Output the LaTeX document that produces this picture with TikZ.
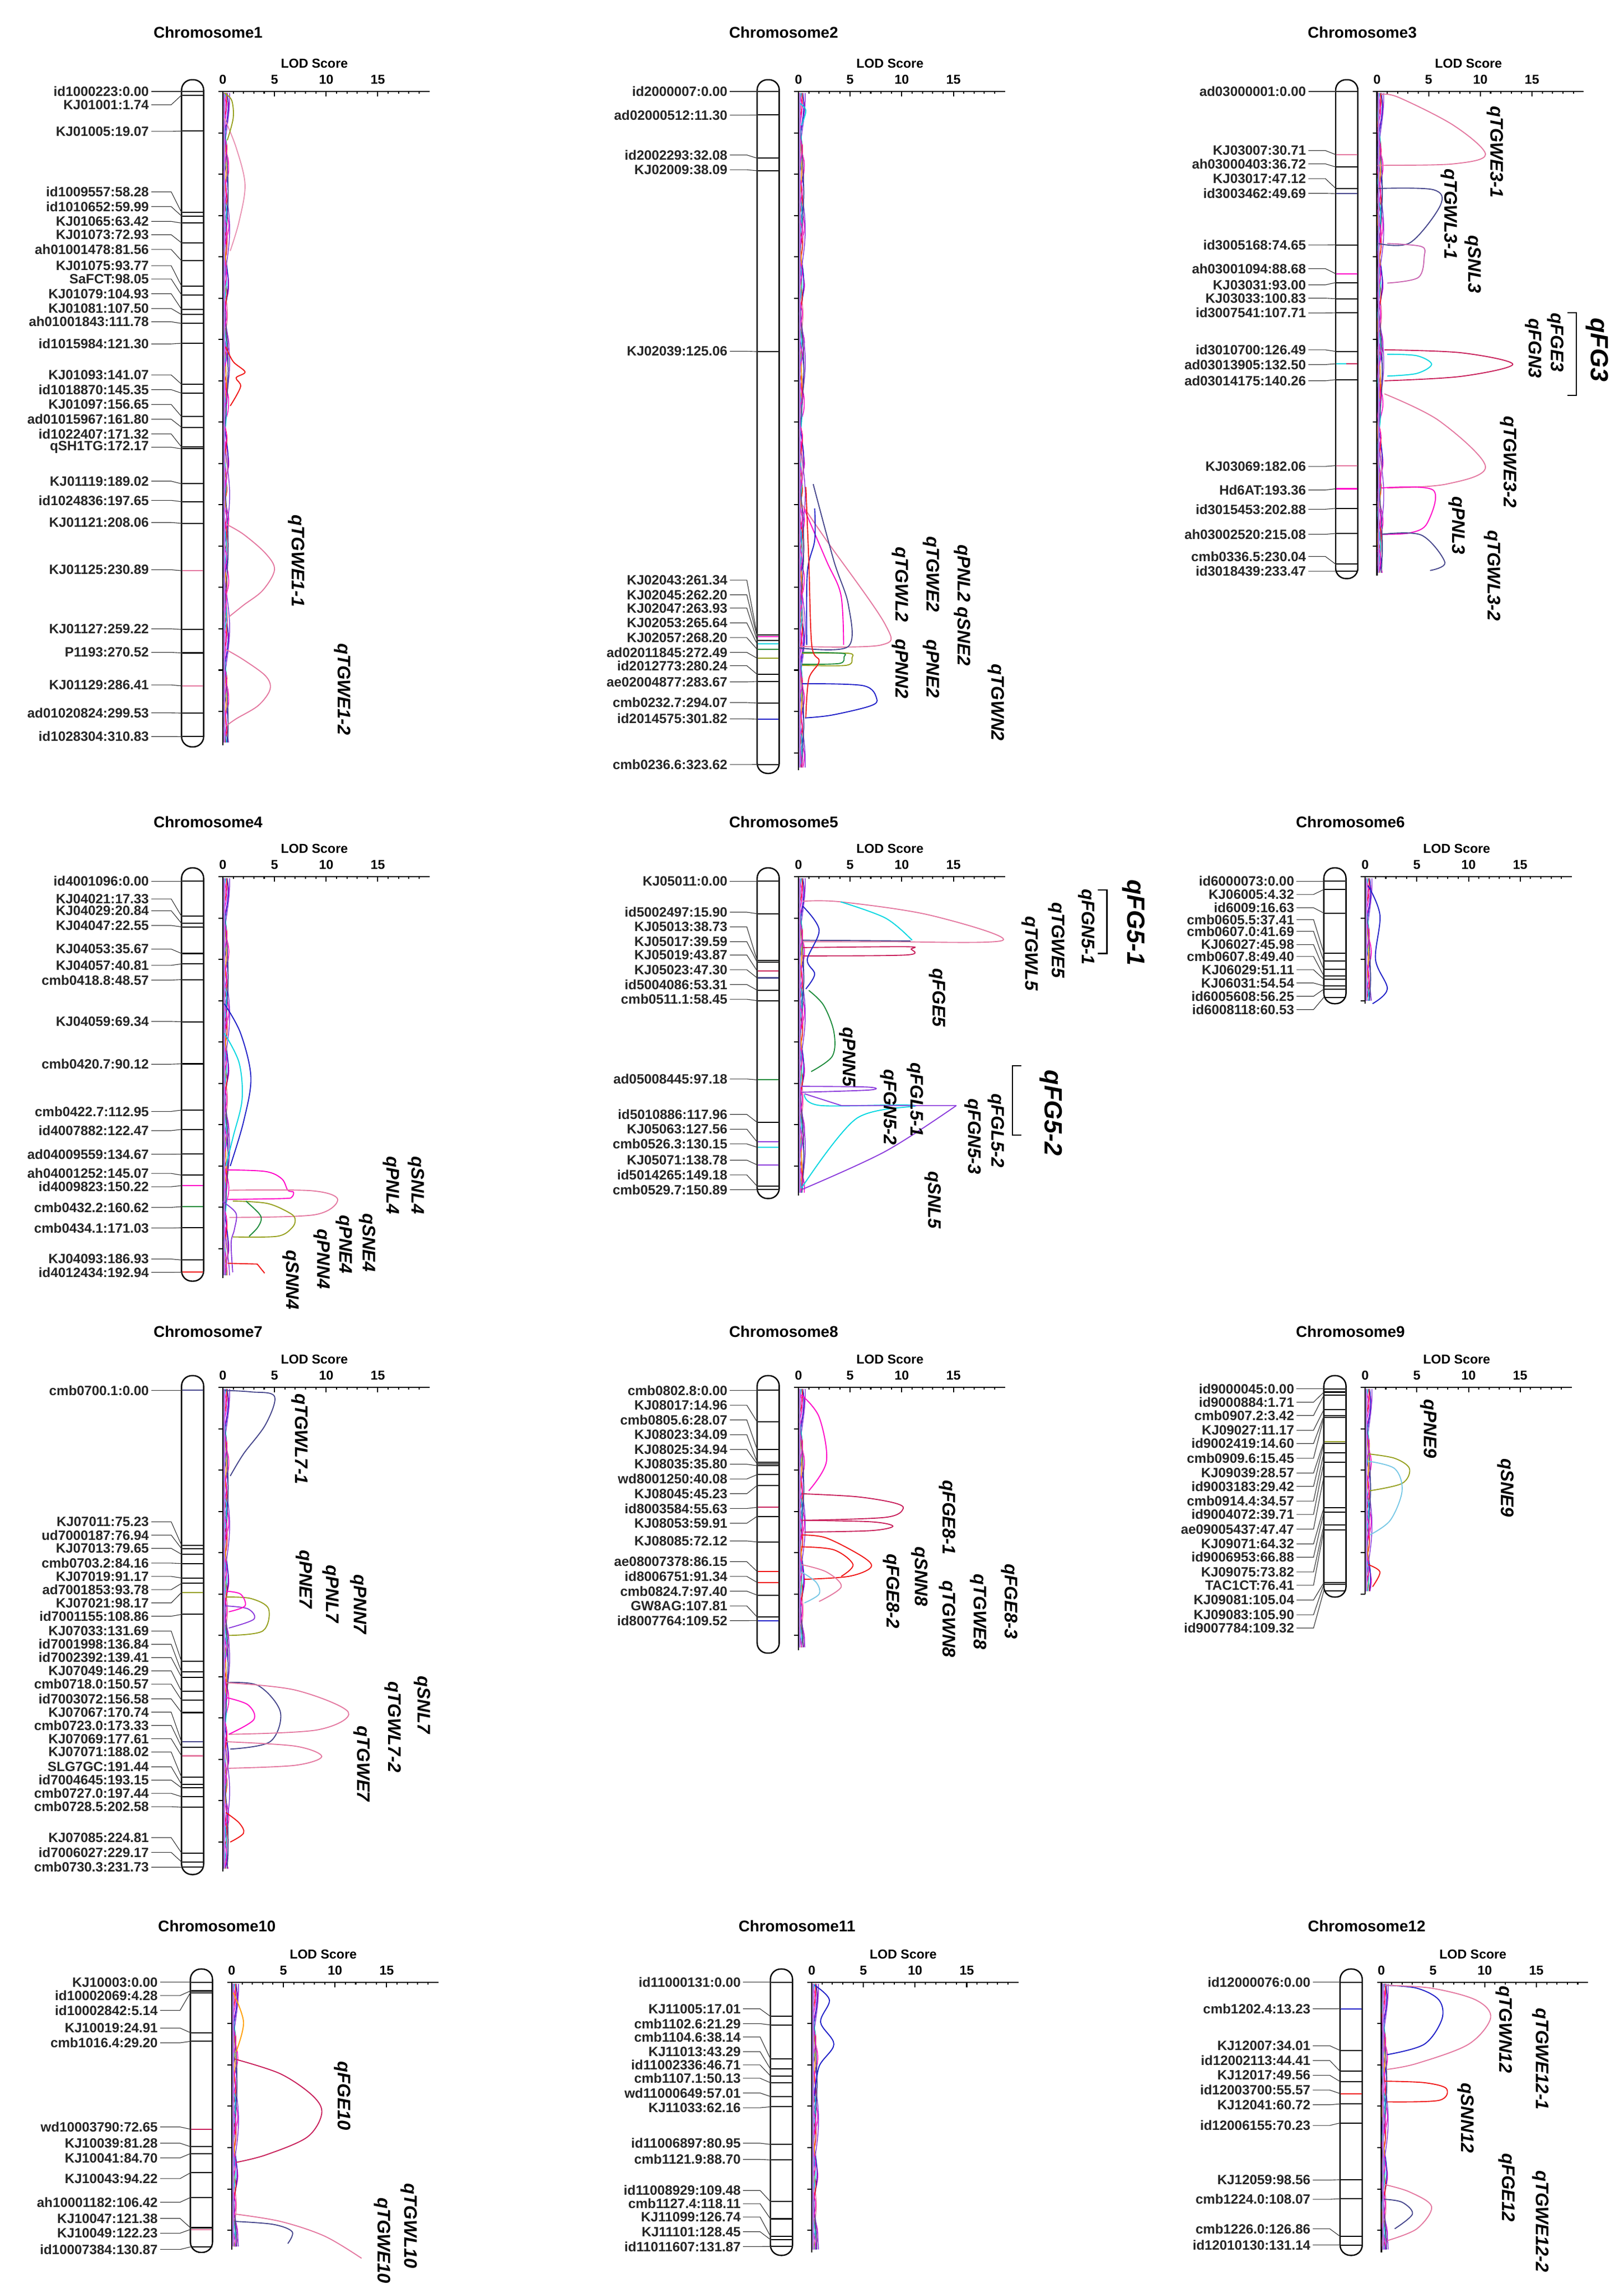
\documentclass[tikz,border=0pt]{standalone}
\usepackage{fontspec}
\setmainfont{Liberation Sans}
\definecolor{pinkc}{RGB}{228,120,160}
\definecolor{crim}{RGB}{200,30,90}
\definecolor{mag}{RGB}{255,0,200}
\definecolor{slate}{RGB}{70,70,140}
\definecolor{navy}{RGB}{30,30,200}
\definecolor{olive}{RGB}{150,160,30}
\definecolor{grn}{RGB}{30,140,60}
\definecolor{cyn}{RGB}{0,215,225}
\definecolor{purp}{RGB}{140,60,220}
\definecolor{redc}{RGB}{240,20,20}
\definecolor{orng}{RGB}{255,160,0}
\definecolor{lblue}{RGB}{120,200,230}
\tikzset{
 k/.style={black},
 mk/.style={font=\fontsize{13}{13}\selectfont\bfseries,anchor=east,inner sep=0pt,text=black!85},
 ttl/.style={font=\fontsize{15}{15}\selectfont\bfseries,inner sep=0pt},
 lodl/.style={font=\fontsize{12.5}{13}\selectfont\bfseries,inner sep=0pt},
 qtl/.style={font=\fontsize{17.5}{17.5}\selectfont\bfseries\itshape,rotate=-90,inner sep=0pt},
 qbig/.style={font=\fontsize{24}{24}\selectfont\bfseries\itshape,rotate=-90,inner sep=0pt},
 ax/.style={line width=1.1pt,black},
 ld/.style={line width=0.6pt,black!80},
 bar/.style={line width=1.3pt,rounded corners=10pt,fill=white},
 cv/.style={line width=1pt,smooth,tension=0.55},
}
\newcommand\mkrs[5]{%
 \foreach \lab/\ly/\cm/\cc in {#5}{%
  \pgfmathsetmacro\ty{#3+\cm*#4}%
  \node[mk] at (#1,\ly) {\lab};%
  \draw[ld] (#1+1.5,\ly) -- (#2-7,\ly) -- (#2,\ty) -- (#2+15,\ty);%
  \draw[\cc,line width=1.1pt] (#2+0.5,\ty) -- (#2+14.5,\ty);%
 }}
\newcommand\lodaxis[3]{%
 \node[lodl] at (#1+62,#2-19) {LOD Score};
 \foreach \v in {0,5,10,15} \node[lodl] at (#1+\v*7,#2-8) {\v};
 \draw[ax] (#1-3,#2) -- (#1+140,#2);
 \foreach \i in {1,...,19} \draw[ax] (#1+\i*7,#2) -- ++(0,1.5);
 \foreach \i in {5,10,15} \draw[ax] (#1+\i*7,#2) -- ++(0,3.5);
 \draw[ax] (#1,#2) -- (#1,#3);
 \pgfmathtruncatemacro\nn{(#3-#2)/28}
 \foreach \kk in {1,...,\nn} \draw[ax] (#1,#2+\kk*28) -- ++(-3,0);
}
\newcommand\noise[3]{%
 \pgfmathsetmacro\nlen{#3-#2}%
 \foreach \c/\a/\f/\p in {mag/3.5/9/0,navy/3/6/40,purp/4/4/80,pinkc/2.5/7/120,redc/2.2/11/30,orng/1.6/5/200,cyn/1.8/8/150,slate/3/3/250,mag/2/13/300}{%
  \draw[\c,line width=0.8pt] plot[smooth,domain=0:\nlen,samples=50,variable=\yy] ({#1+0.6+\a*(0.5+0.5*sin(\f*\yy+\p))},{#2+\yy});}
 \draw[purp!70,line width=1.6pt] (#1+1,#2) -- (#1+1,#3);}
\newcommand\chrbar[3]{\draw[bar] (#1,#2) rectangle (#1+15,#3);}
\begin{document}
\begin{tikzpicture}[x=0.05cm,y=-0.05cm]
\useasboundingbox[fill=white] (0,0) rectangle (1100,1554.2);

% ---------------- Chromosome 1
\node[ttl] (t1) at (141,22) {Chromosome1};
\lodaxis{151}{62}{505}
\chrbar{123}{54}{506}
\mkrs{101}{123}{62}{1.406}{id1000223:0.00/62/0/k,KJ01001:1.74/71/1.74/k,KJ01005:19.07/89/19.07/k,id1009557:58.28/130/58.28/k,id1010652:59.99/140/59.99/k,KJ01065:63.42/150/63.42/k,KJ01073:72.93/159/72.93/k,ah01001478:81.56/169/81.56/k,KJ01075:93.77/180/93.77/k,SaFCT:98.05/189/98.05/k,KJ01079:104.93/199/104.93/k,KJ01081:107.50/209/107.5/k,ah01001843:111.78/218/111.78/k,id1015984:121.30/233/121.3/k,KJ01093:141.07/254/141.07/k,id1018870:145.35/264/145.35/k,KJ01097:156.65/274/156.65/k,ad01015967:161.80/284/161.8/k,id1022407:171.32/294/171.32/k,qSH1TG:172.17/303/172.17/k,KJ01119:189.02/326/189.02/k,id1024836:197.65/339/197.65/k,KJ01121:208.06/354/208.06/k,KJ01125:230.89/386/230.89/pinkc,KJ01127:259.22/426/259.22/k,P1193:270.52/442/270.52/k,KJ01129:286.41/464/286.41/pinkc,ad01020824:299.53/483/299.53/k,id1028304:310.83/499/310.83/k}
\noise{151}{63}{503}
\draw[cv,pinkc!80] plot coordinates {(152,80) (160,100) (166,125) (162,150) (156,170)};
\draw[cv,olive] plot coordinates {(152,63) (157,68) (158,80) (154,95)};
\draw[cv,redc] plot coordinates {(153,235) (158,245) (166,252) (160,256) (163,262) (156,275)};
\draw[cv,pinkc] plot coordinates {(153,355) (165,362) (180,375) (186,386) (178,400) (165,410) (155,418)};
\draw[cv,pinkc] plot coordinates {(153,440) (165,447) (180,458) (183,467) (175,478) (160,487) (153,492)};
\node[qtl] (q11) at (201,380) {qTGWE1-1};
\node[qtl] (q12) at (232,467) {qTGWE1-2};

% ---------------- Chromosome 2
\node[ttl] (t2) at (531,22) {Chromosome2};
\lodaxis{541}{62}{522}
\chrbar{513}{54}{524}
\mkrs{493}{513}{62}{1.409}{id2000007:0.00/62/0/k,ad02000512:11.30/78/11.3/k,id2002293:32.08/105/32.08/k,KJ02009:38.09/115/38.09/k,KJ02039:125.06/238/125.06/k,KJ02043:261.34/393/261.34/k,KJ02045:262.20/403/262.2/mag,KJ02047:263.93/412/263.93/k,KJ02053:265.64/422/265.64/cyn,KJ02057:268.20/432/268.2/grn,ad02011845:272.49/442/272.49/olive,id2012773:280.24/451/280.24/k,ae02004877:283.67/462/283.67/k,cmb0232.7:294.07/476/294.07/k,id2014575:301.82/487/301.82/navy,cmb0236.6:323.62/518/323.62/k}
\noise{541}{63}{520}
\draw[cv,pinkc] plot coordinates {(543.5,342) (559.75,365.75) (599.75,423) (597,437) (542,438)};
\draw[cv,slate] plot coordinates {(551,328) (565,380) (574.75,409.5) (574.75,438) (541,438.9)};
\draw[cv,mag] plot coordinates {(544.75,344.5) (560,380) (569.75,403) (571.6,437)};
\draw[cv,navy] plot coordinates {(552,344.5) (552,366) (547,388) (546.6,437)};
\draw[cv,olive] plot coordinates {(543.5,442.6) (574.75,442.6) (577.25,445.75) (573.5,450.75) (543.5,450.75)};
\draw[cv,grn] plot coordinates {(543.5,442) (570.4,442.6) (571.9,445) (568.75,449.5) (543.5,450)};
\draw[cv,navy] plot coordinates {(543.5,463.25) (584.75,464.5) (594,473.25) (589.75,478.25) (563.5,484.5) (545.4,486.4)};
\draw[cv,redc] plot coordinates {(546,330) (548,380) (550,437) (555,448) (548,460) (546,486)};
\draw[cv,cyn] plot coordinates {(542,70) (546,75) (543,85)};
\node[qtl] (q21) at (652,410) {qPNL2 qSNE2};
\node[qtl] (q22) at (631,389) {qTGWE2};
\node[qtl] (q23) at (631,453) {qPNE2};
\node[qtl] (q24) at (610,396) {qTGWL2};
\node[qtl] (q25) at (610,453) {qPNN2};
\node[qtl] (q26) at (675,476) {qTGWN2};

% ---------------- Chromosome 3
\node[ttl] (t3) at (923,22) {Chromosome3};
\lodaxis{933}{62}{390}
\chrbar{905}{54}{392}
\mkrs{885}{905}{62}{1.392}{ad03000001:0.00/62/0/k,KJ03007:30.71/102/30.71/pinkc,ah03000403:36.72/111/36.72/k,KJ03017:47.12/121/47.12/k,id3003462:49.69/131/49.69/slate,id3005168:74.65/166/74.65/k,ah03001094:88.68/182/88.68/mag,KJ03031:93.00/193/93/k,KJ03033:100.83/202/100.83/k,id3007541:107.71/212/107.71/k,id3010700:126.49/237/126.49/k,ad03013905:132.50/247/132.5/crim,ad03014175:140.26/258/140.26/k,KJ03069:182.06/316/182.06/pinkc,Hd6AT:193.36/332/193.36/mag,id3015453:202.88/345/202.88/k,ah03002520:215.08/362/215.08/k,cmb0336.5:230.04/377/230.04/k,id3018439:233.47/387/233.47/k}
\draw[cyn,line width=1.1pt] (905.5,246.4) -- (912,246.4);
\noise{933}{63}{388}
\draw[cv,pinkc] plot coordinates {(936,64) (947.7,66) (985,85) (1006.5,104.6) (985,111) (939.9,112) (935,112)};
\draw[cv,slate] plot coordinates {(934,127.7) (971,128.5) (976,139) (955.5,164.4) (934,165)};
\draw[cv,pinkc!70!purp] plot coordinates {(940,165) (963,167) (965,173.7) (961,188) (940,191.8)};
\draw[cv,crim] plot coordinates {(938,237) (990,239) (1025,246.8) (990,255) (938,258)};
\draw[cv,cyn] plot coordinates {(940,240) (960,241) (970,246.8) (960,253) (940,254.8)};
\draw[cv,pinkc] plot coordinates {(938,266.8) (975,285) (1006.5,316) (980,328) (940,330.6)};
\draw[cv,mag] plot coordinates {(936,330.6) (971,332) (967,354.5) (955.5,361) (936,362)};
\draw[cv,slate] plot coordinates {(936,362) (963,362.5) (979,381) (969,386.5)};
\node[qtl] (q31) at (1013,103) {qTGWE3-1};
\node[qtl] (q32) at (982,145) {qTGWL3-1};
\node[qtl] (q33) at (998,179) {qSNL3};
\node[qtl] (q34) at (1039,236) {qFGN3};
\node[qtl] (q35) at (1054,232) {qFGE3};
\node[qbig] (q36) at (1082,237) {qFG3};
\draw[line width=1.2pt] (1062,212) -- (1068,212) -- (1068,268) -- (1062,268);
\node[qtl] (q37) at (1022,313) {qTGWE3-2};
\node[qtl] (q38) at (987,356) {qPNL3};
\node[qtl] (q39) at (1011,390) {qTGWL3-2};

% ---------------- Chromosome 4
\node[ttl] (t4) at (141,557) {Chromosome4};
\lodaxis{151}{594}{866}
\chrbar{123}{588}{868}
\mkrs{101}{123}{597}{1.373}{id4001096:0.00/597/0/k,KJ04021:17.33/609/17.33/k,KJ04029:20.84/617/20.84/k,KJ04047:22.55/627/22.55/k,KJ04053:35.67/643/35.67/k,KJ04057:40.81/654/40.81/k,cmb0418.8:48.57/664/48.57/k,KJ04059:69.34/692/69.34/k,cmb0420.7:90.12/721/90.12/k,cmb0422.7:112.95/753/112.95/k,id4007882:122.47/766/122.47/k,ad04009559:134.67/782/134.67/k,ah04001252:145.07/795/145.07/k,id4009823:150.22/804/150.22/mag,cmb0432.2:160.62/818/160.62/grn,cmb0434.1:171.03/832/171.03/k,KJ04093:186.93/853/186.93/k,id4012434:192.94/862/192.94/redc}
\noise{151}{595}{864}
\draw[cv,navy] plot coordinates {(152,680) (163,700) (170,730) (165,760) (156,790)};
\draw[cv,cyn] plot coordinates {(152,700) (162,720) (164,745) (158,770) (153,790)};
\draw[cv,mag] plot coordinates {(153.2,792.6) (180,793.7) (191,798.7) (195,806.4) (198.8,807.6) (197.7,811) (192,812) (154.3,812.6)};
\draw[cv,pinkc] plot coordinates {(155.4,806.4) (211,806.7) (228.8,812.6) (213.2,823) (155.4,824.8)};
\draw[cv,olive] plot coordinates {(157.7,813.7) (181,815.3) (196.6,822) (200,826.4) (197.7,832) (187.7,837.6) (157.7,838)};
\draw[cv,grn] plot coordinates {(166.6,813.7) (175.4,822) (177,826.4) (174.3,832) (168.8,837.6)};
\draw[cv,purp] plot coordinates {(151,814.2) (159.9,822) (158.8,833) (156.6,842) (157.7,862)};
\draw[redc,line width=1pt] (154.3,855.9) -- (174.3,856.4) -- (179.3,862.6);
\node[qtl] (q41) at (282,803) {qSNL4};
\node[qtl] (q42) at (265,803) {qPNL4};
\node[qtl] (q43) at (249,842) {qSNE4};
\node[qtl] (q44) at (233,843) {qPNE4};
\node[qtl] (q45) at (218,853) {qPNN4};
\node[qtl] (q46) at (197,867) {qSNN4};

% ---------------- Chromosome 5
\node[ttl] (t5) at (531,557) {Chromosome5};
\lodaxis{541}{594}{810}
\chrbar{513}{588}{812}
\mkrs{493}{513}{597}{1.385}{KJ05011:0.00/597/0/k,id5002497:15.90/618/15.9/k,KJ05013:38.73/628/38.73/k,KJ05017:39.59/638/39.59/k,KJ05019:43.87/647/43.87/crim,KJ05023:47.30/657/47.3/slate,id5004086:53.31/667/53.31/k,cmb0511.1:58.45/677/58.45/k,ad05008445:97.18/731/97.18/grn,id5010886:117.96/755/117.96/k,KJ05063:127.56/765/127.56/purp,cmb0526.3:130.15/775/130.15/cyn,KJ05071:138.78/786/138.78/purp,id5014265:149.18/796/149.18/k,cmb0529.7:150.89/806/150.89/k}
\noise{541}{595}{808}
\draw[cv,pinkc] plot coordinates {(544,610.6) (569.6,611) (630,620) (679.6,637) (600,638) (544,638)};
\draw[cv,cyn] plot coordinates {(569.6,611) (600,622) (618,637)};
\draw[slate,line width=1pt] (544,637) -- (617,637.5);
\draw[cv,crim] plot coordinates {(544,642) (614,641.4) (617.4,643) (614,647) (544,647.6)};
\draw[cv,navy] plot coordinates {(544,614) (555,630) (547,650) (552,660) (546,670)};
\draw[cv,grn] plot coordinates {(548,671) (558,681) (565,699) (564,715.5) (549.6,726)};
\draw[cv,purp] plot coordinates {(543,736) (588,736.5) (589,738.5) (543,740)};
\draw[cv,cyn] plot coordinates {(545,741.5) (556,749) (620,749) (580,758) (543,805)};
\draw[purp,line width=1pt] (545,741) -- (570,749) -- (648,749);
\draw[cv,purp] plot coordinates {(648,749) (600,780) (544,805.6)};
\node[qbig] (q51) at (768,625) {qFG5-1};
\draw[line width=1.2pt] (744,603) -- (750,603) -- (750,646) -- (744,646);
\node[qtl] (q52) at (736,628) {qFGN5-1};
\node[qtl] (q53) at (716,637) {qTGWE5};
\node[qtl] (q54) at (698,646) {qTGWL5};
\node[qtl] (q55) at (635,676) {qFGE5};
\node[qtl] (q56) at (574,716) {qPNN5};
\node[qtl] (q57) at (620,745) {qFGL5-1};
\node[qtl] (q58) at (602,750) {qFGN5-2};
\node[qbig] (q59) at (712,754) {qFG5-2};
\draw[line width=1.2pt] (692,722) -- (686,722) -- (686,769) -- (692,769);
\node[qtl] (q5a) at (675,766) {qFGL5-2};
\node[qtl] (q5b) at (659,770) {qFGN5-3};
\node[qtl] (q5c) at (632,813) {qSNL5};

% ---------------- Chromosome 6
\node[ttl] (t6) at (915,557) {Chromosome6};
\lodaxis{925}{594}{680}
\chrbar{897}{588}{680}
\mkrs{877}{897}{597}{1.3}{id6000073:0.00/597/0/k,KJ06005:4.32/606/4.32/k,id6009:16.63/615/16.63/k,cmb0605.5:37.41/623/37.41/k,cmb0607.0:41.69/631/41.69/k,KJ06027:45.98/640/45.98/k,cmb0607.8:49.40/648/49.4/k,KJ06029:51.11/657/51.11/k,KJ06031:54.54/666/54.54/k,id6005608:56.25/675/56.25/k,id6008118:60.53/684/60.53/k}
\noise{925}{595}{678}
\draw[cv,navy] plot coordinates {(927,600) (935,620) (932,650) (940,670) (930,680)};

% ---------------- Chromosome 7
\node[ttl] (t7) at (141,902) {Chromosome7};
\lodaxis{151}{940}{1268}
\chrbar{123}{932}{1270}
\mkrs{101}{123}{942}{1.394}{cmb0700.1:0.00/942/0/slate,KJ07011:75.23/1031/75.23/k,ud7000187:76.94/1040/76.94/k,KJ07013:79.65/1049/79.65/k,cmb0703.2:84.16/1059/84.16/k,KJ07019:91.17/1068/91.17/k,ad7001853:93.78/1077/93.78/k,KJ07021:98.17/1086/98.17/olive,id7001155:108.86/1095/108.86/k,KJ07033:131.69/1105/131.69/k,id7001998:136.84/1114/136.84/k,id7002392:139.41/1123/139.41/k,KJ07049:146.29/1132/146.29/k,cmb0718.0:150.57/1141/150.57/k,id7003072:156.58/1151/156.58/k,KJ07067:170.74/1160/170.74/slate,cmb0723.0:173.33/1169/173.33/k,KJ07069:177.61/1178/177.61/pinkc,KJ07071:188.02/1187/188.02/k,SLG7GC:191.44/1197/191.44/k,id7004645:193.15/1206/193.15/k,cmb0727.0:197.44/1215/197.44/k,cmb0728.5:202.58/1224/202.58/k,KJ07085:224.81/1245/224.81/k,id7006027:229.17/1255/229.17/k,cmb0730.3:231.73/1265/231.73/k}
\noise{151}{941}{1266}
\draw[cv,slate] plot coordinates {(152,942) (170,943) (186,946) (180,965) (165,985) (156,1000)};
\draw[cv,olive] plot coordinates {(153,1082) (170,1083) (182,1090) (178,1105) (155,1108)};
\draw[cv,purp] plot coordinates {(153,1088) (168,1090) (172,1097) (155,1103)};
\draw[cv,mag] plot coordinates {(153,1078) (163,1080) (166,1088) (155,1092)};
\draw[cv,slate] plot coordinates {(153,1140) (175,1142) (190,1160) (183,1180) (156,1185)};
\draw[cv,pinkc] plot coordinates {(153,1140) (200,1145) (236,1160) (215,1172) (155,1175)};
\draw[cv,pinkc] plot coordinates {(153,1180) (200,1183) (218,1190) (200,1196) (155,1198)};
\draw[cv,mag] plot coordinates {(153,1150) (168,1155) (172,1165) (155,1175)};
\draw[cv,redc] plot coordinates {(153,1228) (162,1235) (165,1242) (156,1248)};
\node[qtl] (q71) at (203,975) {qTGWL7-1};
\node[qtl] (q72) at (206,1070) {qPNE7};
\node[qtl] (q73) at (224,1080) {qPNL7};
\node[qtl] (q74) at (243,1087) {qPNN7};
\node[qtl] (q75) at (286,1155) {qSNL7};
\node[qtl] (q76) at (266,1170) {qTGWL7-2};
\node[qtl] (q77) at (245,1195) {qTGWE7};

% ---------------- Chromosome 8
\node[ttl] (t8) at (531,902) {Chromosome8};
\lodaxis{541}{940}{1118}
\chrbar{513}{932}{1120}
\mkrs{493}{513}{942}{1.424}{cmb0802.8:0.00/942/0/k,KJ08017:14.96/952/14.96/k,cmb0805.6:28.07/962/28.07/k,KJ08023:34.09/972/34.09/k,KJ08025:34.94/982/34.94/k,KJ08035:35.80/992/35.8/k,wd8001250:40.08/1002/40.08/k,KJ08045:45.23/1012/45.23/k,id8003584:55.63/1022/55.63/crim,KJ08053:59.91/1032/59.91/k,KJ08085:72.12/1044/72.12/k,ae08007378:86.15/1058/86.15/redc,id8006751:91.34/1068/91.34/redc,cmb0824.7:97.40/1078/97.4/k,GW8AG:107.81/1088/107.81/k,id8007764:109.52/1098/109.52/navy}
\noise{541}{941}{1116}
\draw[cv,crim] plot coordinates {(543,1012) (580,1014) (605,1018) (612,1022) (600,1028) (545,1030)};
\draw[cv,crim] plot coordinates {(543,1030) (590,1031) (605,1034) (590,1037) (545,1038)};
\draw[cv,redc] plot coordinates {(543,1040) (560,1042) (585,1055) (590,1062) (575,1068) (545,1070)};
\draw[cv,redc] plot coordinates {(543,1048) (565,1050) (578,1060) (570,1068)};
\draw[cv,pinkc] plot coordinates {(543,1060) (560,1065) (570,1075) (555,1085)};
\draw[cv,mag] plot coordinates {(543,945) (555,960) (560,990) (548,1010)};
\draw[cv,lblue] plot coordinates {(543,1065) (553,1072) (555,1080) (545,1086)};
\node[qtl] (q81) at (642,1028) {qFGE8-1};
\node[qtl] (q82) at (623,1068) {qSNN8};
\node[qtl] (q83) at (604,1078) {qFGE8-2};
\node[qtl] (q84) at (684,1085) {qFGE8-3};
\node[qtl] (q85) at (663,1092) {qTGWE8};
\node[qtl] (q86) at (642,1097) {qTGWN8};

% ---------------- Chromosome 9
\node[ttl] (t9) at (915,902) {Chromosome9};
\lodaxis{925}{940}{1080}
\chrbar{897}{932}{1082}
\mkrs{877}{897}{941}{1.25}{id9000045:0.00/941/0/k,id9000884:1.71/950/1.71/k,cmb0907.2:3.42/959/3.42/k,KJ09027:11.17/969/11.17/k,id9002419:14.60/978/14.6/k,cmb0909.6:15.45/988/15.45/k,KJ09039:28.57/998/28.57/olive,id9003183:29.42/1007/29.42/k,cmb0914.4:34.57/1017/34.57/k,id9004072:39.71/1026/39.71/k,ae09005437:47.47/1036/47.47/k,KJ09071:64.32/1046/64.32/k,id9006953:66.88/1055/66.88/k,KJ09075:73.82/1065/73.82/k,TAC1CT:76.41/1074/76.41/k,KJ09081:105.04/1084/105.04/k,KJ09083:105.90/1094/105.9/k,id9007784:109.32/1103/109.32/k}
\noise{925}{941}{1078}
\draw[cv,olive] plot coordinates {(927,985) (945,988) (955,995) (950,1005) (928,1010)};
\draw[cv,lblue] plot coordinates {(927,990) (945,995) (950,1010) (942,1030) (928,1040)};
\draw[cv,redc] plot coordinates {(927,1060) (935,1065) (930,1075)};
\node[qtl] (q91) at (968,968) {qPNE9};
\node[qtl] (q92) at (1020,1008) {qSNE9};

% ---------------- Chromosome 10
\node[ttl] (t10) at (147,1305) {Chromosome10};
\lodaxis{157}{1343}{1524}
\chrbar{129}{1334}{1526}
\mkrs{107}{129}{1343}{1.37}{KJ10003:0.00/1343/0/k,id10002069:4.28/1352/4.28/k,id10002842:5.14/1362/5.14/k,KJ10019:24.91/1374/24.91/k,cmb1016.4:29.20/1384/29.2/k,wd10003790:72.65/1441/72.65/crim,KJ10039:81.28/1452/81.28/k,KJ10041:84.70/1462/84.7/k,KJ10043:94.22/1476/94.22/k,ah10001182:106.42/1492/106.42/k,KJ10047:121.38/1503/121.38/k,KJ10049:122.23/1513/122.23/pinkc,id10007384:130.87/1524/130.87/k}
\noise{157}{1344}{1522}
\draw[cv,crim] plot coordinates {(159,1395) (190,1405) (212,1420) (218,1432) (208,1448) (180,1460) (160,1465)};
\draw[cv,pinkc] plot coordinates {(159,1500) (190,1505) (220,1515) (245,1530)};
\draw[cv,slate] plot coordinates {(159,1505) (185,1507) (198,1512) (195,1520)};
\draw[cv,orng] plot coordinates {(158,1350) (165,1370) (160,1390)};
\node[qtl] (q101) at (232,1420) {qFGE10};
\node[qtl] (q102) at (277,1508) {qTGWL10};
\node[qtl] (q103) at (259,1518) {qTGWE10};

% ---------------- Chromosome 11
\node[ttl] (t11) at (540,1305) {Chromosome11};
\lodaxis{550}{1343}{1526}
\chrbar{522}{1334}{1528}
\mkrs{502}{522}{1343}{1.357}{id11000131:0.00/1343/0/k,KJ11005:17.01/1361/17.01/k,cmb1102.6:21.29/1371/21.29/k,cmb1104.6:38.14/1380/38.14/k,KJ11013:43.29/1390/43.29/k,id11002336:46.71/1399/46.71/k,cmb1107.1:50.13/1408/50.13/k,wd11000649:57.01/1418/57.01/k,KJ11033:62.16/1428/62.16/k,id11006897:80.95/1452/80.95/k,cmb1121.9:88.70/1463/88.7/k,id11008929:109.48/1484/109.48/k,cmb1127.4:118.11/1493/118.11/k,KJ11099:126.74/1502/126.74/k,KJ11101:128.45/1512/128.45/k,id11011607:131.87/1522/131.87/k}
\noise{550}{1344}{1524}
\draw[cv,navy] plot coordinates {(552,1345) (562,1355) (556,1370) (565,1385) (555,1400) (552,1420)};

% ---------------- Chromosome 12
\node[ttl] (t12) at (926,1305) {Chromosome12};
\lodaxis{936}{1343}{1526}
\chrbar{908}{1334}{1528}
\mkrs{888}{908}{1343}{1.357}{id12000076:0.00/1343/0/k,cmb1202.4:13.23/1361/13.23/navy,KJ12007:34.01/1386/34.01/k,id12002113:44.41/1396/44.41/k,KJ12017:49.56/1406/49.56/k,id12003700:55.57/1416/55.57/redc,KJ12041:60.72/1426/60.72/k,id12006155:70.23/1440/70.23/k,KJ12059:98.56/1477/98.56/k,cmb1224.0:108.07/1490/108.07/k,cmb1226.0:126.86/1510/126.86/k,id12010130:131.14/1521/131.14/k}
\noise{936}{1344}{1524}
\draw[cv,navy] plot coordinates {(938,1345) (960,1347) (975,1355) (977,1368) (965,1385) (940,1392)};
\draw[cv,pinkc] plot coordinates {(938,1345) (970,1347) (1000,1355) (1010,1367) (995,1385) (960,1398) (940,1402)};
\draw[cv,redc] plot coordinates {(938,1410) (965,1411) (980,1415) (975,1423) (940,1424)};
\draw[cv,pinkc] plot coordinates {(938,1480) (955,1485) (970,1495) (960,1510) (940,1518)};
\draw[cv,slate] plot coordinates {(938,1490) (950,1492) (957,1500) (945,1510)};
\node[qtl] (q121) at (1019,1375) {qTGWN12};
\node[qtl] (q122) at (1044,1395) {qTGWE12-1};
\node[qtl] (q123) at (993,1435) {qSNN12};
\node[qtl] (q124) at (1021,1482) {qFGE12};
\node[qtl] (q125) at (1044,1505) {qTGWE12-2};
\end{tikzpicture}
\end{document}
